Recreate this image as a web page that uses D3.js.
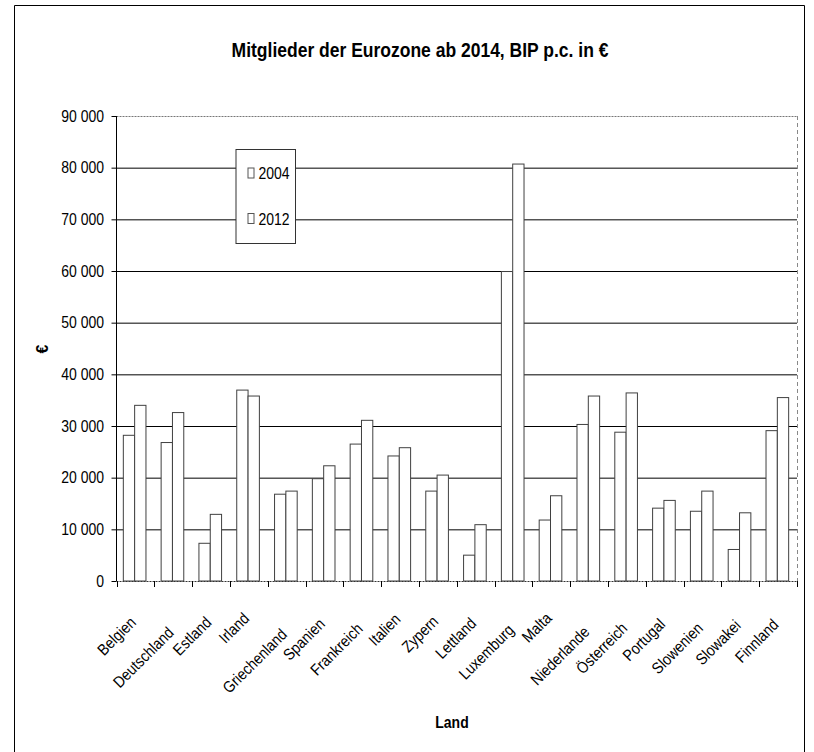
<!DOCTYPE html>
<html>
<head>
<meta charset="utf-8">
<script src="https://cdn.jsdelivr.net/npm/d3@7"></script>
<style>
  html, body { margin: 0; padding: 0; background: #fff; }
  svg { display: block; font-family: "Liberation Sans", Arial, sans-serif; }
</style>
</head>
<body>
<svg id="chart" width="814" height="752"></svg>
<script>
const categories = ["Belgien","Deutschland","Estland","Irland","Griechenland","Spanien","Frankreich","Italien","Zypern","Lettland","Luxemburg","Malta","Niederlande","Österreich","Portugal","Slowenien","Slowakei","Finnland"];
const seriesNames = ["2004", "2012"];
const values2004 = [28200, 26800, 7300, 36950, 16800, 19800, 26500, 24200, 17400, 5000, 59900, 11800, 30300, 28800, 14100, 13500, 6100, 29100];
const values2012 = [34000, 32600, 12900, 35800, 17400, 22300, 31100, 25800, 20500, 10900, 80700, 16500, 35800, 36400, 15600, 17400, 13200, 35500];
const yTicks = [0, 10000, 20000, 30000, 40000, 50000, 60000, 70000, 80000, 90000];
const titleText = "Mitglieder der Eurozone ab 2014, BIP p.c. in €";
const xTitle = "Land";
const yTitle = "€";

(function () {
const svg = d3.select("#chart");
const pL = 116.5, pR = 797, pT = 116, pB = 581;
const SX = 0.875; // condensed text look

const locale = d3.formatLocale({decimal: ",", thousands: " ", grouping: [3], currency: ["", "€"]});
const fmt = locale.format(",d");

const y = d3.scaleLinear().domain([0, 90000]).range([pB, pT]);
const x0 = d3.scaleBand().domain(categories).range([pL, pR]).padding(0);
const x1 = d3.scaleBand().domain(seriesNames).range([0, x0.bandwidth()])
  .paddingInner(0).paddingOuter(0.67).align(0.45);

// outer chart frame
svg.append("path").attr("d", "M14.5,752 L14.5,5.5 L804.5,5.5 L804.5,752")
  .attr("fill", "none").attr("stroke", "#000").attr("stroke-width", 1);

// gridlines
const grid = svg.append("g").attr("transform", `translate(${pL},0)`)
  .call(d3.axisLeft(y).tickValues(yTicks.filter(v => v > 0 && v < 90000)).tickSize(-(pR - pL)).tickFormat(""));
grid.select(".domain").remove();
grid.selectAll("line").attr("stroke", "#000").attr("stroke-width", 1);

// top border dashed, right border dashed
svg.append("line").attr("x1", pL).attr("x2", pR).attr("y1", y(90000) + 0.5).attr("y2", y(90000) + 0.5)
  .attr("stroke", "#777").attr("stroke-dasharray", "2,1");
svg.append("line").attr("x1", pR + 0.5).attr("x2", pR + 0.5).attr("y1", y(90000)).attr("y2", pB)
  .attr("stroke", "#888").attr("stroke-dasharray", "4,3");

// bars
const data = categories.map((c, i) => ({cat: c, vals: [
  {s: seriesNames[0], v: values2004[i]},
  {s: seriesNames[1], v: values2012[i]}
]}));
const groups = svg.append("g").selectAll("g").data(data).join("g")
  .attr("transform", d => `translate(${x0(d.cat)},0)`);
groups.selectAll("rect").data(d => d.vals).join("rect")
  .attr("x", d => x1(d.s))
  .attr("y", d => y(d.v))
  .attr("width", x1.bandwidth())
  .attr("height", d => pB - y(d.v))
  .attr("fill", "#fff")
  .attr("stroke", "#404040")
  .attr("stroke-width", 1);

// y axis
const yAxis = svg.append("g").attr("transform", `translate(${pL},0)`)
  .call(d3.axisLeft(y).tickValues(yTicks).tickSize(5).tickPadding(7).tickFormat(fmt));
yAxis.select(".domain").attr("stroke", "#000").attr("d", `M0,${pB}V${pT}`);
yAxis.selectAll("line").attr("stroke", "#000");
yAxis.selectAll("text").attr("font-size", 16).attr("fill", "#000")
  .attr("font-family", "Liberation Sans, Arial, sans-serif")
  .attr("x", 0).attr("transform", `translate(-12.5,0) scale(${SX},1)`);

// x axis
const xAxis = svg.append("g").attr("transform", `translate(0,${pB})`)
  .call(d3.axisBottom(x0).tickSize(0).tickFormat(""));
xAxis.select(".domain").attr("stroke", "#333").attr("stroke-dasharray", "2,1").attr("d", `M${pL},0.5H${pR}`);
// boundary ticks
const bounds = categories.map(c => x0(c)).concat([pR]);
svg.append("g").selectAll("line").data(bounds).join("line")
  .attr("x1", d => Math.round(d) + 0.5).attr("x2", d => Math.round(d) + 0.5)
  .attr("y1", pB).attr("y2", pB + 6)
  .attr("stroke", "#000");

// x labels rotated
const labels = svg.append("g").selectAll("text").data(categories).join("text")
  .attr("font-size", 16).attr("text-anchor", "end").attr("fill", "#000")
  .text(d => d);
labels.each(function(d) {
  const w = this.getComputedTextLength() * SX;
  const cx = x0(d) + x0.bandwidth() / 2;
  d3.select(this).attr("transform", `translate(${cx + 1.5},${608 + 0.33 * w}) rotate(-45) scale(${SX},1)`);
});

// legend
const lg = svg.append("g");
lg.append("rect").attr("x", 236).attr("y", 149.5).attr("width", 59.5).attr("height", 94)
  .attr("fill", "#fff").attr("stroke", "#333");
seriesNames.forEach((s, i) => {
  const yy = 168 + i * 45.5;
  lg.append("rect").attr("x", 248).attr("y", yy).attr("width", 6).attr("height", 10)
    .attr("fill", "#fff").attr("stroke", "#555");
  lg.append("text").attr("transform", `translate(258.5,${yy + 11}) scale(${SX},1)`)
    .attr("font-size", 16).attr("fill", "#000").text(s);
});

// titles
svg.append("text").attr("transform", `translate(420,57) scale(${SX},1)`).attr("text-anchor", "middle")
  .attr("font-size", 20).attr("font-weight", "bold").text(titleText);
svg.append("text").attr("transform", `translate(452,728) scale(${SX},1)`).attr("text-anchor", "middle")
  .attr("font-size", 16).attr("font-weight", "bold").text(xTitle);
svg.append("text").attr("transform", "translate(48,349) rotate(-90)").attr("text-anchor", "middle")
  .attr("font-size", 16).attr("font-weight", "bold").text(yTitle);
})();
</script>
</body>
</html>
